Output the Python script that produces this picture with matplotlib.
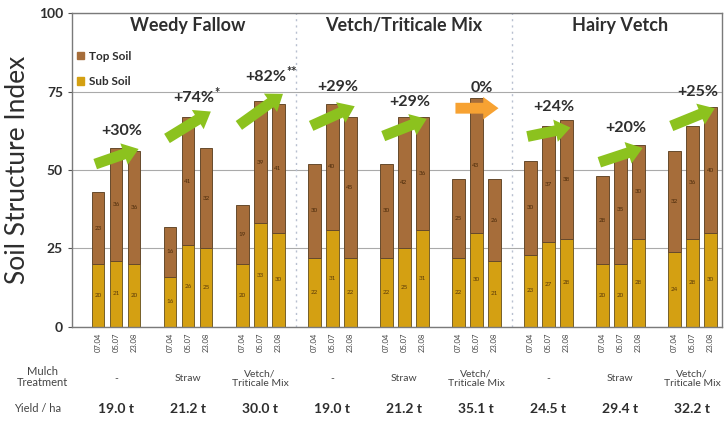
import matplotlib.pyplot as plt
import matplotlib.transforms as mtransforms
from matplotlib.patches import Patch
import numpy as np

plt.rcParams['font.family'] = ['Lato', 'DejaVu Sans']

# data
dates = ['07.04', '05.07', '23.08']
systems = ['Weedy Fallow', 'Vetch/Triticale Mix', 'Hairy Vetch']
treatments = ['-', 'Straw', 'Vetch/\nTriticale Mix'] * 3
yields = ['19.0 t', '21.2 t', '30.0 t', '19.0 t', '21.2 t', '35.1 t', '24.5 t', '29.4 t', '32.2 t']
sub_soil = [20, 21, 20, 16, 26, 25, 20, 33, 30,
            22, 31, 22, 22, 25, 31, 22, 30, 21,
            23, 27, 28, 20, 20, 28, 24, 28, 30]
top_soil = [23, 36, 36, 16, 41, 32, 19, 39, 41,
            30, 40, 45, 30, 42, 36, 25, 43, 26,
            30, 37, 38, 28, 35, 30, 32, 36, 40]
changes = ['+30%', '+74%', '+82%', '+29%', '+29%', '0%', '+24%', '+20%', '+25%']
stars = ['', '*', '**', '', '', '', '', '', '']
change_y = [62.4, 72.9, 79.6, 76.4, 71.7, 76.1, 70, 63.4, 74.8]
arrow_from = [51.6, 59.6, 63.7, 63.7, 60.5, 69.7, 60.5, 52.2, 63.7]
arrow_to = [57, 69.1, 74.8, 70.7, 66.6, 69.7, 63.7, 57.3, 70]

top_col = '#a66d3a'
sub_col = '#d4a012'
green = '#8cc21e'
orange = '#f7a232'
txt = '#2e2e2e'

n_groups = len(yields)
x = np.array([4 * g + b for g in range(n_groups) for b in range(3)])
group_x = np.arange(n_groups) * 4 + 1

fig = plt.figure(figsize=(7.28, 4.24), dpi=100)
ax = fig.add_axes([0.099, 0.229, 0.893, 0.740])

ax.bar(x, sub_soil, width=0.72, color=sub_col, edgecolor='#76602a', linewidth=0.7, zorder=2)
ax.bar(x, top_soil, bottom=sub_soil, width=0.72, color=top_col, edgecolor='#664a2c',
       linewidth=0.7, zorder=2)

# small value labels inside the segments
for xi, s, t in zip(x, sub_soil, top_soil):
    ax.text(xi, s / 2, str(s), ha='center', va='center', fontsize=4.5, color='#5a3a0a', zorder=3)
    ax.text(xi, s + t / 2, str(t), ha='center', va='center', fontsize=4.5, color='#4a2a0a', zorder=3)

# trend arrows and percentage labels
for g in range(n_groups):
    c = orange if changes[g] == '0%' else green
    ax.annotate('', xy=(4 * g + 2.4, arrow_to[g]), xytext=(4 * g - 0.3, arrow_from[g]),
                arrowprops=dict(arrowstyle='simple,head_width=1.25,head_length=0.85,tail_width=0.6',
                                mutation_scale=13, color=c, lw=0), zorder=4)
    t = ax.text(4 * g + 1.3, change_y[g], changes[g], ha='center', va='center',
                fontsize=11.5, fontweight='bold', color=txt, zorder=5)
    if stars[g]:
        ax.annotate(stars[g], xy=(1, 0.85), xycoords=t, ha='left', va='center',
                    fontsize=9, fontweight='bold', color=txt)

# system titles and dividers
for i, name in enumerate(systems):
    ax.text(group_x[3 * i + 1], 96, name, ha='center', va='center', fontsize=13,
            fontweight='bold', color=txt)
for d in [11, 23]:
    ax.axvline(d, color='#b8c0d0', linestyle=(0, (1.5, 3)), linewidth=1, zorder=1)

ax.set_xlim(-1.44, 34.67)
ax.set_ylim(0, 100)
ax.set_yticks([0, 25, 50, 75, 100])
ax.tick_params(axis='y', labelsize=10, length=3, colors='#555555', labelcolor=txt)
for lbl in ax.get_yticklabels():
    lbl.set_fontweight('bold')
ax.grid(axis='y', color='#aaaaaa', linewidth=0.8, zorder=0)
ax.set_axisbelow(True)
for sp in ax.spines.values():
    sp.set_color('#7a7a7a')
    sp.set_linewidth(1)

ax.set_xticks(x)
ax.set_xticklabels(dates * n_groups, rotation=90, fontsize=5.5, color='#444444')
ax.tick_params(axis='x', length=0, pad=4)

ax.set_ylabel('Soil Structure Index', fontsize=19, color=txt, labelpad=6)

# rows below the axis
trans = mtransforms.blended_transform_factory(ax.transData, ax.transAxes)
for g in range(n_groups):
    ax.text(group_x[g], -0.165, treatments[g], transform=trans, ha='center', va='center',
            fontsize=7.5, color='#444444', linespacing=1.1)
    ax.text(group_x[g], -0.262, yields[g], transform=trans, ha='center', va='center',
            fontsize=10, fontweight='bold', color=txt)
fig.text(42 / 728, 1 - 377 / 424, 'Mulch\nTreatment', ha='center', va='center', fontsize=8,
         color='#444444', linespacing=1.1)
fig.text(38 / 728, 1 - 408 / 424, 'Yield / ha', ha='center', va='center', fontsize=8,
         color='#444444')

handles = [Patch(color=top_col), Patch(color=sub_col)]
ax.legend(handles, ['Top Soil', 'Sub Soil'], loc='upper left', bbox_to_anchor=(0.0, 0.895),
          frameon=False, prop={'weight': 'bold', 'size': 8.5},
          handlelength=0.6, handleheight=0.6, handletextpad=0.4, labelspacing=1.2,
          borderpad=0.2, borderaxespad=0.2, labelcolor=txt)

fig.savefig('out.png', dpi=100)
